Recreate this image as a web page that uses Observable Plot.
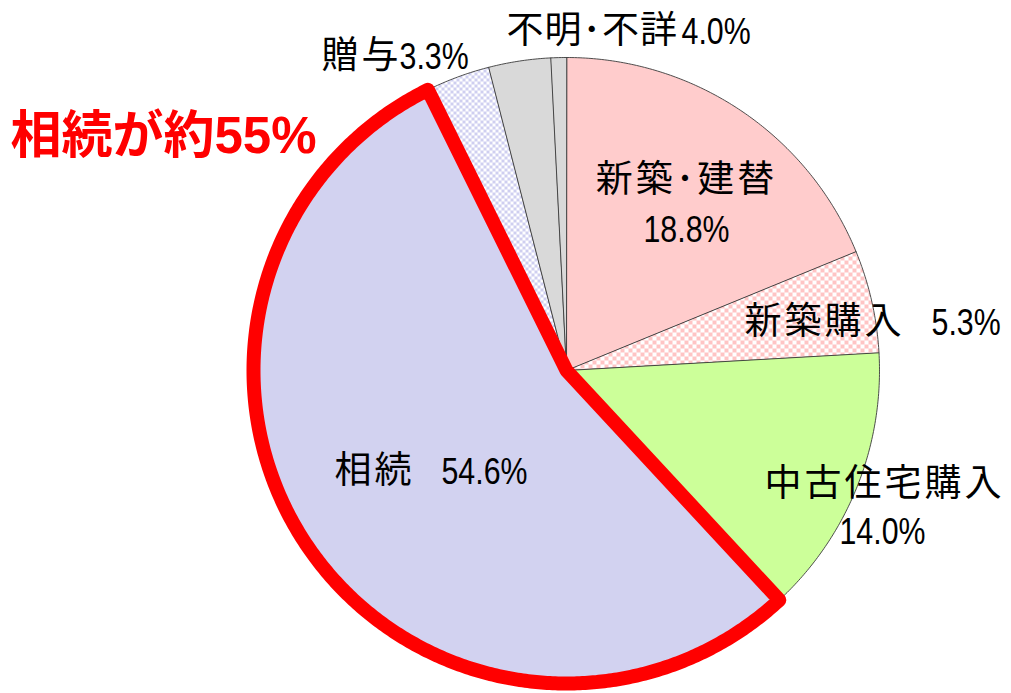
<!DOCTYPE html>
<html>
<head>
<meta charset="utf-8">
<script src="https://cdn.jsdelivr.net/npm/d3@7"></script>
<script src="https://cdn.jsdelivr.net/npm/@observablehq/plot@0.6"></script>
<style>
  html, body { margin: 0; padding: 0; background: #fff; }
</style>
</head>
<body>
<div id="chart"></div>
<script>
// ---- data ----
const categories = ["新築･建替", "新築購入", "中古住宅購入", "相続", "贈与", "不明･不詳", "その他"];
const shares = [18.8, 5.3, 14.0, 54.6, 3.3, 3.2, 0.8];
const valueLabels = ["18.8%", "5.3%", "14.0%", "54.6%", "3.3%", "4.0%"];
const sliceFills = ["#FFCCCC", "url(#chkPink)", "#CCFF99", "#D2D2F0", "url(#chkBlue)", "#D9D9D9", "#D9D9D9"];
const headline = "相続が約55%";

// ---- layout ----
const W = 1011, H = 693;
const cx = 566, cy = 370, R = 313;

const data = categories.map((c, i) => ({category: c, share: shares[i], fill: sliceFills[i]}));
const arcs = d3.pie().sort(null).value(d => d.share)(data);

function slicePoints(arc) {
  const pts = [{x: cx, y: cy}];
  const n = Math.max(2, Math.ceil((arc.endAngle - arc.startAngle) / (Math.PI / 360)));
  for (let i = 0; i <= n; i++) {
    const a = arc.startAngle + (arc.endAngle - arc.startAngle) * i / n;
    pts.push({x: cx + R * Math.sin(a), y: cy - R * Math.cos(a)});
  }
  return pts;
}

const sliceMarks = arcs.map(arc => Plot.line(slicePoints(arc), {
  x: "x", y: "y", curve: "linear-closed",
  fill: arc.data.fill, stroke: "#3a3a3a", strokeWidth: 0.9
}));

const souzoku = arcs.find(a => a.data.category === "相続");
const outline = Plot.line(slicePoints(souzoku), {
  x: "x", y: "y", curve: "linear-closed", fill: "none",
  stroke: "#FF0000", strokeWidth: 14, strokeLinejoin: "round", strokeLinecap: "round"
});

const font = "'Liberation Sans', 'Noto Sans CJK JP', sans-serif";
// label placement (text from the data arrays above)
const labels = [
  {text: categories[0], x: 686, y: 180, anchor: "middle", kind: "cjk"},
  {text: valueLabels[0], x: 686, y: 230, anchor: "middle", kind: "num"},
  {text: categories[1], x: 744, y: 322, anchor: "start", kind: "cjk"},
  {text: valueLabels[1], x: 931, y: 323, anchor: "start", kind: "num"},
  {text: categories[2], x: 764, y: 484, anchor: "start", kind: "cjk"},
  {text: valueLabels[2], x: 839, y: 532, anchor: "start", kind: "num"},
  {text: categories[3], x: 334, y: 471, anchor: "start", kind: "cjk"},
  {text: valueLabels[3], x: 441, y: 472, anchor: "start", kind: "num"},
  {text: categories[4], x: 321, y: 56, anchor: "start", kind: "cjk"},
  {text: valueLabels[4], x: 399, y: 57, anchor: "start", kind: "num"},
  {text: categories[5], x: 506, y: 31, anchor: "start", kind: "cjk2"},
  {text: valueLabels[5], x: 681, y: 32, anchor: "start", kind: "num"}
];

const textOpts = a => ({
  filter: d => d.anchor === a,
  x: "x", y: "y", text: "text", textAnchor: a,
  fontSize: 37, fontFamily: font, fill: "#000",
  title: null
});

const chart = Plot.plot({
  width: W, height: H,
  margin: 0,
  x: {domain: [0, W], range: [0, W], axis: null},
  y: {domain: [0, H], range: [0, H], axis: null},
  style: {background: "#fff"},
  marks: [
    ...sliceMarks,
    outline,
    Plot.text(labels, {...textOpts("middle"), title: undefined}),
    Plot.text(labels, {...textOpts("start"), title: undefined}),
    Plot.text([headline], {
      x: () => 10, y: () => 136, text: d => d, textAnchor: "start",
      fontSize: 51, fontWeight: "bold", fill: "#FF0000",
      fontFamily: "'Liberation Sans', 'Noto Sans CJK JP', sans-serif"
    })
  ]
});

// patterns
const defs = d3.select(chart).insert("defs", ":first-child");
const p1 = defs.append("pattern").attr("id", "chkPink").attr("patternUnits", "userSpaceOnUse")
  .attr("width", 8).attr("height", 8);
p1.append("rect").attr("width", 8).attr("height", 8).attr("fill", "#fff");
p1.append("rect").attr("width", 4).attr("height", 4).attr("fill", "#FFC4C4");
p1.append("rect").attr("x", 4).attr("y", 4).attr("width", 4).attr("height", 4).attr("fill", "#FFC4C4");
const p2 = defs.append("pattern").attr("id", "chkBlue").attr("patternUnits", "userSpaceOnUse")
  .attr("width", 6).attr("height", 6);
p2.append("rect").attr("width", 6).attr("height", 6).attr("fill", "#fff");
p2.append("rect").attr("width", 3).attr("height", 3).attr("fill", "#CFCFF0");
p2.append("rect").attr("x", 3).attr("y", 3).attr("width", 3).attr("height", 3).attr("fill", "#CFCFF0");

document.getElementById("chart").appendChild(chart);

// typographic adjustments: spaced CJK, condensed numerals
const kindOf = new Map(labels.map(l => [l.text, l.kind]));
d3.select(chart).selectAll("text").each(function() {
  const k = kindOf.get(this.textContent);
  if (k === "cjk") this.setAttribute("letter-spacing", 3);
  else if (k === "cjk2") this.setAttribute("letter-spacing", 1);
  else if (k === "num") {
    const len = this.getComputedTextLength();
    this.setAttribute("textLength", (len * 0.82).toFixed(1));
    this.setAttribute("lengthAdjust", "spacingAndGlyphs");
  }
});
</script>
</body>
</html>
